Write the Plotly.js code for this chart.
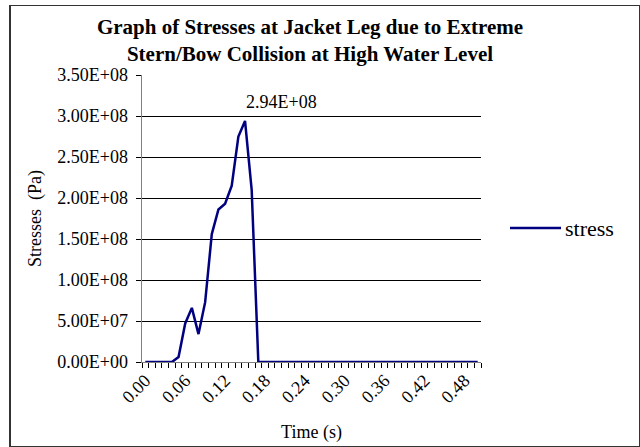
<!DOCTYPE html>
<html>
<head>
<meta charset="utf-8">
<script src="https://cdn.plot.ly/plotly-3.0.1.min.js"></script>
<style>
html,body{margin:0;padding:0;background:#fff;}
#wrap{position:relative;width:640px;height:447px;}
#chart{width:640px;height:447px;}
#frame{position:absolute;left:9px;top:5px;width:628px;height:440px;border:1px solid #333;border-left-width:2px;pointer-events:none;}
</style>
</head>
<body>
<div id="wrap"><div id="chart"></div><div id="frame"></div></div>
<script>
const time = [0.00,0.01,0.02,0.03,0.04,0.05,0.06,0.07,0.08,0.09,
              0.10,0.11,0.12,0.13,0.14,0.15,0.16,0.17,0.18,0.19,
              0.20,0.21,0.22,0.23,0.24,0.25,0.26,0.27,0.28,0.29,
              0.30,0.31,0.32,0.33,0.34,0.35,0.36,0.37,0.38,0.39,
              0.40,0.41,0.42,0.43,0.44,0.45,0.46,0.47,0.48,0.49,0.50];
const stress = [0,0,0,0,0,6.1e6,4.7e7,6.6e7,3.4e7,7.3e7,
                1.56e8,1.86e8,1.93e8,2.15e8,2.75e8,2.94e8,2.10e8,0,0,0,
                0,0,0,0,0,0,0,0,0,0,
                0,0,0,0,0,0,0,0,0,0,
                0,0,0,0,0,0,0,0,0,0,0];
const xTickVals = [0.00,0.06,0.12,0.18,0.24,0.30,0.36,0.42,0.48];
const xTickLabels = ['0.00','0.06','0.12','0.18','0.24','0.30','0.36','0.42','0.48'];
const yTickVals = [0,5e7,1e8,1.5e8,2e8,2.5e8,3e8,3.5e8];
const yTickLabels = ['0.00E+00','5.00E+07','1.00E+08','1.50E+08','2.00E+08','2.50E+08','3.00E+08','3.50E+08'];
const peakLabel = '2.94E+08';
const seriesName = 'stress';

let pk = 0;
for (let i = 1; i < stress.length; i++) if (stress[i] > stress[pk]) pk = i;

const font = 'Liberation Serif, Times New Roman, serif';
const W = 640, H = 447, L = 142, R = 159, T = 75, B = 85;
const pw = W - L - R, ph = H - T - B;
const px = v => (v - L) / pw;          // pixel x -> paper x
const py = v => (H - B - v) / ph;      // pixel y -> paper y

Plotly.newPlot('chart', [{
  x: time, y: stress, type: 'scatter', mode: 'lines', name: seriesName,
  line: {color: '#000080', width: 2.5}, showlegend: false
}], {
  width: W, height: H,
  margin: {l: L, r: R, t: T, b: B},
  paper_bgcolor: '#fff', plot_bgcolor: '#fff',
  font: {family: font, size: 18, color: '#000'},
  title: {
    text: '<b>Graph of Stresses at Jacket Leg due to Extreme<br>Stern/Bow Collision at High Water Level</b>',
    font: {family: font, size: 21, color: '#000'},
    x: 310 / W, xref: 'container', xanchor: 'center',
    y: 1 - 34 / H, yref: 'container', yanchor: 'middle'
  },
  xaxis: {
    range: [-0.005, 0.505],
    tickvals: xTickVals, ticktext: xTickLabels,
    tickangle: -45, ticks: '',
    showgrid: false, zeroline: false,
    showline: true, linecolor: '#808080', linewidth: 1,
    tickfont: {family: font, size: 18},
    minor: {tick0: -0.005, dtick: 0.01, ticks: 'outside', ticklen: 5, tickcolor: '#000', tickwidth: 1, showgrid: false},
    title: {text: 'Time (s)', font: {family: font, size: 18}, standoff: 19}
  },
  yaxis: {
    range: [0, 3.5e8],
    tickvals: yTickVals, ticktext: yTickLabels.map(s => s + '&nbsp;'),
    ticks: 'outside', ticklen: 5, tickcolor: '#000',
    showgrid: true, gridcolor: '#000', gridwidth: 1,
    zeroline: false,
    showline: true, linecolor: '#808080', linewidth: 1,
    tickfont: {family: font, size: 18},
    title: {text: 'Stresses&nbsp;&nbsp;(Pa)', font: {family: font, size: 18}, standoff: 10}
  },
  showlegend: false,
  shapes: [{
    type: 'line', xref: 'paper', yref: 'paper',
    x0: px(510), x1: px(561), y0: py(228), y1: py(228),
    line: {color: '#000080', width: 2.5}
  }],
  annotations: [{
    x: time[pk], y: stress[pk], xref: 'x', yref: 'y',
    text: peakLabel, showarrow: false,
    xanchor: 'left', yanchor: 'bottom', xshift: -1, yshift: 7,
    font: {family: font, size: 18, color: '#000'}
  }, {
    x: px(563), y: py(228), xref: 'paper', yref: 'paper',
    text: seriesName, showarrow: false,
    xanchor: 'left', yanchor: 'middle',
    font: {family: font, size: 22, color: '#000'}
  }]
}, {displayModeBar: false, staticPlot: true});
</script>
</body>
</html>
